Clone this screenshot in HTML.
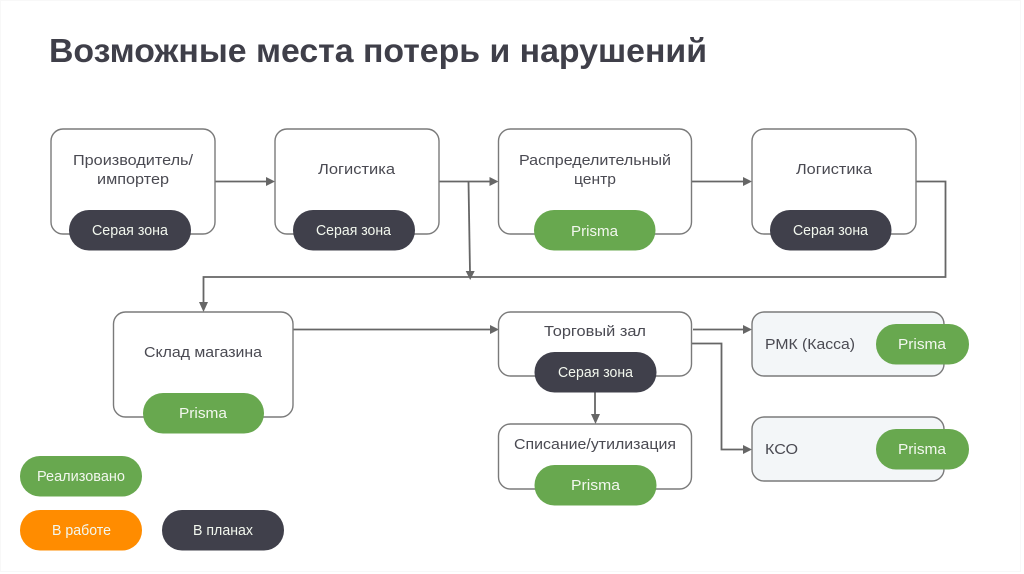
<!DOCTYPE html>
<html lang="ru">
<head>
<meta charset="utf-8">
<style>
html,body{margin:0;padding:0;background:#fff;width:1024px;height:574px;overflow:hidden}
svg{display:block}
text{font-family:"Liberation Sans","DejaVu Sans",sans-serif;font-size:14.5px;fill:#4a4a52}
text.w{fill:#f2f7ee;font-size:14.5px}
text.t{font-size:33px;font-weight:bold;fill:#3f3f49}
.b{fill:#fff;stroke:#7a7a7a;stroke-width:1.4}
.g{fill:#f3f6f8;stroke:#7a7a7a;stroke-width:1.4}
.l{fill:none;stroke:#666;stroke-width:1.8}
.a{fill:#666}
</style>
</head>
<body>
<svg width="1024" height="574" viewBox="0 0 1024 574" xmlns="http://www.w3.org/2000/svg">
<rect x="0.5" y="0.5" width="1020" height="571" fill="#fff" stroke="#f8f8f8"/>
<text class="t" x="49" y="62" textLength="658" lengthAdjust="spacingAndGlyphs">Возможные места потерь и нарушений</text>

<!-- connectors -->
<path class="l" d="M215 181.500H268"/>
<path class="a" d="M275 181.500l-9-4.500v9z"/>
<path class="l" d="M439 181.500H491"/>
<path class="a" d="M498.500 181.500l-9-4.500v9z"/>
<path class="l" d="M691 181.500H745"/>
<path class="a" d="M752 181.500l-9-4.500v9z"/>
<path class="l" d="M915 181.500H945.500V277H203.500V305"/>
<path class="a" d="M203.500 312l-4.500-10h9z"/>
<path class="l" d="M468.500 181.500L470 272"/>
<path class="a" d="M470.200 280l-4.500-9h9z"/>
<path class="l" d="M293 329.500H492"/>
<path class="a" d="M499 329.500l-9-4.500v9z"/>
<path class="l" d="M693 329.500H745"/>
<path class="a" d="M752 329.500l-9-4.500v9z"/>
<path class="l" d="M691 343.500H721.500V449.500H745"/>
<path class="a" d="M752 449.500l-9-4.500v9z"/>
<path class="l" d="M595 392V417"/>
<path class="a" d="M595.500 424l-4.500-10h9z"/>

<!-- boxes -->
<rect class="b" x="51" y="129" width="164" height="105" rx="12"/>
<rect class="b" x="275" y="129" width="164" height="105" rx="12"/>
<rect class="b" x="498.500" y="129" width="193" height="105" rx="12"/>
<rect class="b" x="752" y="129" width="164" height="105" rx="12"/>
<rect class="b" x="113.500" y="312" width="179.500" height="105" rx="12"/>
<rect class="b" x="498.500" y="312" width="193" height="64" rx="12"/>
<rect class="b" x="498.500" y="424" width="193" height="65" rx="12"/>
<rect class="g" x="752" y="312" width="192" height="64" rx="12"/>
<rect class="g" x="752" y="417" width="192" height="64" rx="12"/>

<!-- pills -->
<rect x="69" y="210" width="122" height="40.500" rx="20" fill="#40404b"/>
<rect x="293" y="210" width="122" height="40.500" rx="20" fill="#40404b"/>
<rect x="534" y="210" width="121.500" height="40.500" rx="20" fill="#68a84f"/>
<rect x="770" y="210" width="121.500" height="40.500" rx="20" fill="#40404b"/>
<rect x="143" y="393" width="121" height="40.500" rx="20" fill="#68a84f"/>
<rect x="534.500" y="352" width="122" height="40.500" rx="20" fill="#40404b"/>
<rect x="534.500" y="465" width="122" height="40.500" rx="20" fill="#68a84f"/>
<rect x="876" y="324" width="93" height="40.500" rx="20" fill="#68a84f"/>
<rect x="876" y="429" width="93" height="40.500" rx="20" fill="#68a84f"/>
<rect x="20" y="456" width="122" height="40.500" rx="20" fill="#68a84f"/>
<rect x="20" y="510" width="122" height="40.500" rx="20" fill="#ff8c00"/>
<rect x="162" y="510" width="122" height="40.500" rx="20" fill="#40404b"/>

<!-- labels -->
<text x="73" y="165" textLength="120" lengthAdjust="spacingAndGlyphs">Производитель/</text>
<text x="97" y="184" textLength="72" lengthAdjust="spacingAndGlyphs">импортер</text>
<text x="318" y="174" textLength="77" lengthAdjust="spacingAndGlyphs">Логистика</text>
<text x="519" y="165" textLength="152" lengthAdjust="spacingAndGlyphs">Распределительный</text>
<text x="574" y="184" textLength="42" lengthAdjust="spacingAndGlyphs">центр</text>
<text x="796" y="174" textLength="76" lengthAdjust="spacingAndGlyphs">Логистика</text>
<text x="144" y="357" textLength="118" lengthAdjust="spacingAndGlyphs">Склад магазина</text>
<text x="544" y="336" textLength="102" lengthAdjust="spacingAndGlyphs">Торговый зал</text>
<text x="514" y="449" textLength="162" lengthAdjust="spacingAndGlyphs">Списание/утилизация</text>
<text x="765" y="349" textLength="90" lengthAdjust="spacingAndGlyphs">РМК (Касса)</text>
<text x="765" y="454" textLength="33" lengthAdjust="spacingAndGlyphs">КСО</text>

<text class="w" x="92" y="235" textLength="76" lengthAdjust="spacingAndGlyphs">Серая зона</text>
<text class="w" x="316" y="235" textLength="75" lengthAdjust="spacingAndGlyphs">Серая зона</text>
<text class="w" x="571" y="236" textLength="47" lengthAdjust="spacingAndGlyphs">Prisma</text>
<text class="w" x="793" y="235" textLength="75" lengthAdjust="spacingAndGlyphs">Серая зона</text>
<text class="w" x="179" y="418" textLength="48" lengthAdjust="spacingAndGlyphs">Prisma</text>
<text class="w" x="558" y="377" textLength="75" lengthAdjust="spacingAndGlyphs">Серая зона</text>
<text class="w" x="571" y="490" textLength="49" lengthAdjust="spacingAndGlyphs">Prisma</text>
<text class="w" x="898" y="349" textLength="48" lengthAdjust="spacingAndGlyphs">Prisma</text>
<text class="w" x="898" y="454" textLength="48" lengthAdjust="spacingAndGlyphs">Prisma</text>
<text class="w" x="37" y="481" textLength="88" lengthAdjust="spacingAndGlyphs">Реализовано</text>
<text class="w" x="52" y="535" textLength="59" lengthAdjust="spacingAndGlyphs">В работе</text>
<text class="w" x="193" y="535" textLength="60" lengthAdjust="spacingAndGlyphs">В планах</text>
</svg>
</body>
</html>
